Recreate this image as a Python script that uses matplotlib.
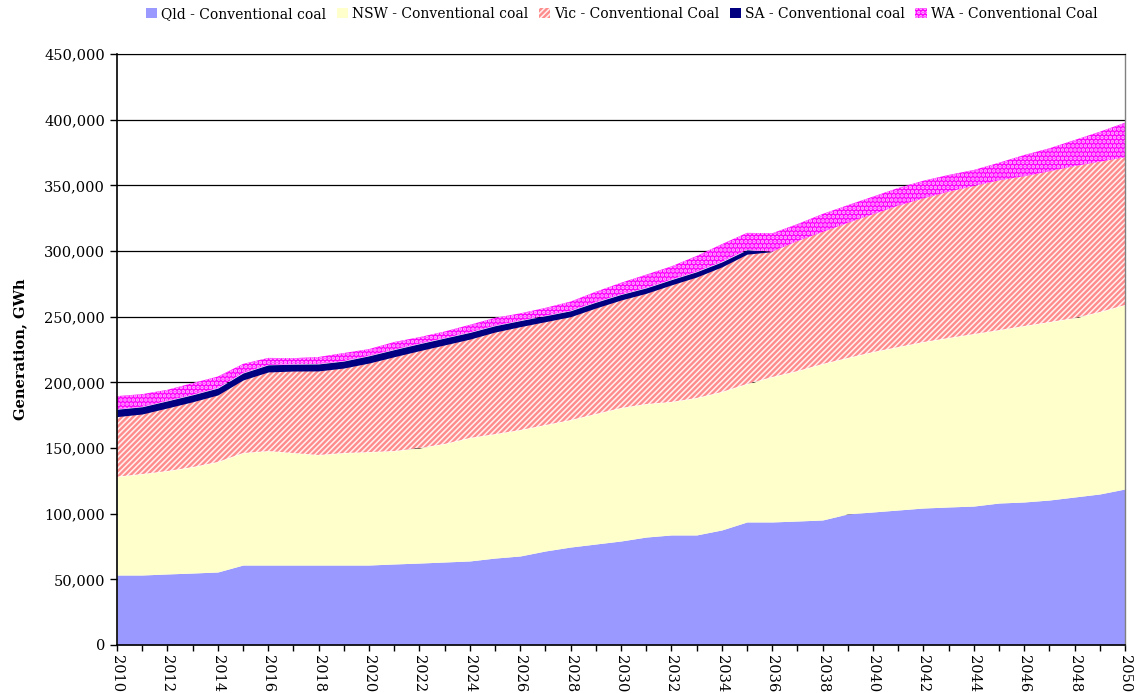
import matplotlib
matplotlib.use("Agg")
import matplotlib.pyplot as plt
from matplotlib.patches import Patch
from matplotlib.ticker import FuncFormatter, MultipleLocator
import numpy as np

years = list(range(2010, 2051))
qld = [53300, 53300, 54100, 54800, 55600, 60900, 60900, 60900, 60900, 60900,
       60900, 61700, 62400, 63200, 64000, 66200, 67800, 71600, 74600, 76900,
       79200, 82200, 83800, 83800, 87600, 93700, 93700, 94400, 95200, 99800,
       101300, 102800, 104300, 105100, 105800, 108100, 108900, 110400, 112700, 115000, 118800]
nsw = [74900, 76900, 78400, 80700, 83800, 85300, 86800, 85300, 83800, 85300,
       86000, 86000, 87600, 89900, 93700, 94400, 95900, 95900, 96700, 99000,
       101300, 101300, 101300, 104300, 105100, 105100, 110400, 114200, 118800, 118800,
       121800, 124100, 126400, 128700, 131000, 131700, 134000, 135500, 136300, 138600, 140100]
vic = [45700, 45700, 48000, 49700, 51000, 55600, 60200, 62400, 64000, 64700,
       67800, 71800, 74100, 75400, 75200, 77700, 78700, 78700, 78700, 80700,
       82200, 84300, 89100, 92100, 95200, 98800, 95400, 99000, 100500, 102800,
       104900, 107600, 109400, 111400, 112700, 114000, 114000, 114800, 115700, 114400, 112500]
sa = [5600, 5500, 5400, 5300, 5200, 5300, 5400, 5200, 5300, 5300,
      5500, 5400, 5300, 5200, 5100, 4800, 4600, 4500, 4500, 4400,
      4200, 4100, 4000, 4000, 3800, 3300, 0, 0, 0, 0,
      0, 0, 0, 0, 0, 0, 0, 0, 0, 0, 0]
wa = [10000, 9600, 8400, 8900, 8800, 6900, 5300, 4600, 5300, 6100,
      5100, 5800, 5000, 5000, 5800, 6000, 5500, 6000, 7000, 8000,
      8900, 10100, 10100, 12000, 13500, 12900, 14000, 12900, 13700, 13500,
      13400, 13500, 13400, 12700, 12200, 13400, 16200, 17500, 19800, 22800, 26300]

labels = ["Qld - Conventional coal", "NSW - Conventional coal", "Vic - Conventional Coal",
          "SA - Conventional coal", "WA - Conventional Coal"]

plt.rcParams['font.family'] = ['DejaVu Serif']
plt.rcParams['hatch.linewidth'] = 1.7

fig = plt.figure(figsize=(11.45, 6.93), dpi=100)
ax = fig.add_axes([117/1145, 1-645/693, (1125-117)/1145, (645-54)/693])

x = np.array(years)
series = [np.array(s, dtype=float) for s in (qld, nsw, vic, sa, wa)]
styles = [
    dict(facecolor='#9999FF', edgecolor='#9999FF', hatch=None),
    dict(facecolor='#FFFFCC', edgecolor='#FFFFCC', hatch=None),
    dict(facecolor='#FFF0F0', edgecolor='#FF8C8C', hatch='//////'),
    dict(facecolor='#000080', edgecolor='#000080', hatch=None),
    dict(facecolor='#FF00FF', edgecolor='#FFB8FF', hatch='....'),
]
base = np.zeros_like(x, dtype=float)
handles = []
for s, st, lab in zip(series, styles, labels):
    top = base + s
    ax.fill_between(x, base, top, facecolor=st['facecolor'], edgecolor=st['edgecolor'],
                    hatch=st['hatch'], linewidth=0, zorder=2)
    handles.append(Patch(facecolor=st['facecolor'], edgecolor=st['edgecolor'],
                         hatch=st['hatch'], linewidth=0, label=lab))
    base = top

ax.set_xlim(2010, 2050)
ax.set_ylim(0, 450000)
ax.yaxis.set_major_locator(MultipleLocator(50000))
ax.yaxis.set_major_formatter(FuncFormatter(lambda v, p: f"{int(v):,}"))
ax.xaxis.set_major_locator(MultipleLocator(2))
ax.xaxis.set_minor_locator(MultipleLocator(1))
ax.xaxis.set_major_formatter(FuncFormatter(lambda v, p: f"{int(v)}"))
ax.set_axisbelow(True)
ax.grid(axis='y', color='black', linewidth=0.9, zorder=0)
ax.tick_params(axis='y', direction='out', length=5, labelsize=10.5, width=1)
ax.tick_params(axis='x', which='both', direction='out', length=4, labelsize=10.5,
               labelrotation=-90, width=1)
for lab in ax.get_xticklabels():
    lab.set_va('top')
for side in ['left', 'bottom']:
    ax.spines[side].set_color('black')
    ax.spines[side].set_linewidth(1.2)
ax.spines['top'].set_color('black')
ax.spines['right'].set_color('#808080')
ax.spines['right'].set_linewidth(1.0)

ax.set_ylabel("Generation, GWh", fontsize=10.5, fontweight='bold', labelpad=12)

fig.legend(handles=handles, loc='upper center', bbox_to_anchor=(0.543, 1.008), ncol=5,
           frameon=False, fontsize=10, handlelength=0.8, handleheight=0.8,
           handletextpad=0.3, columnspacing=0.75)

fig.savefig("out.png", dpi=100)
